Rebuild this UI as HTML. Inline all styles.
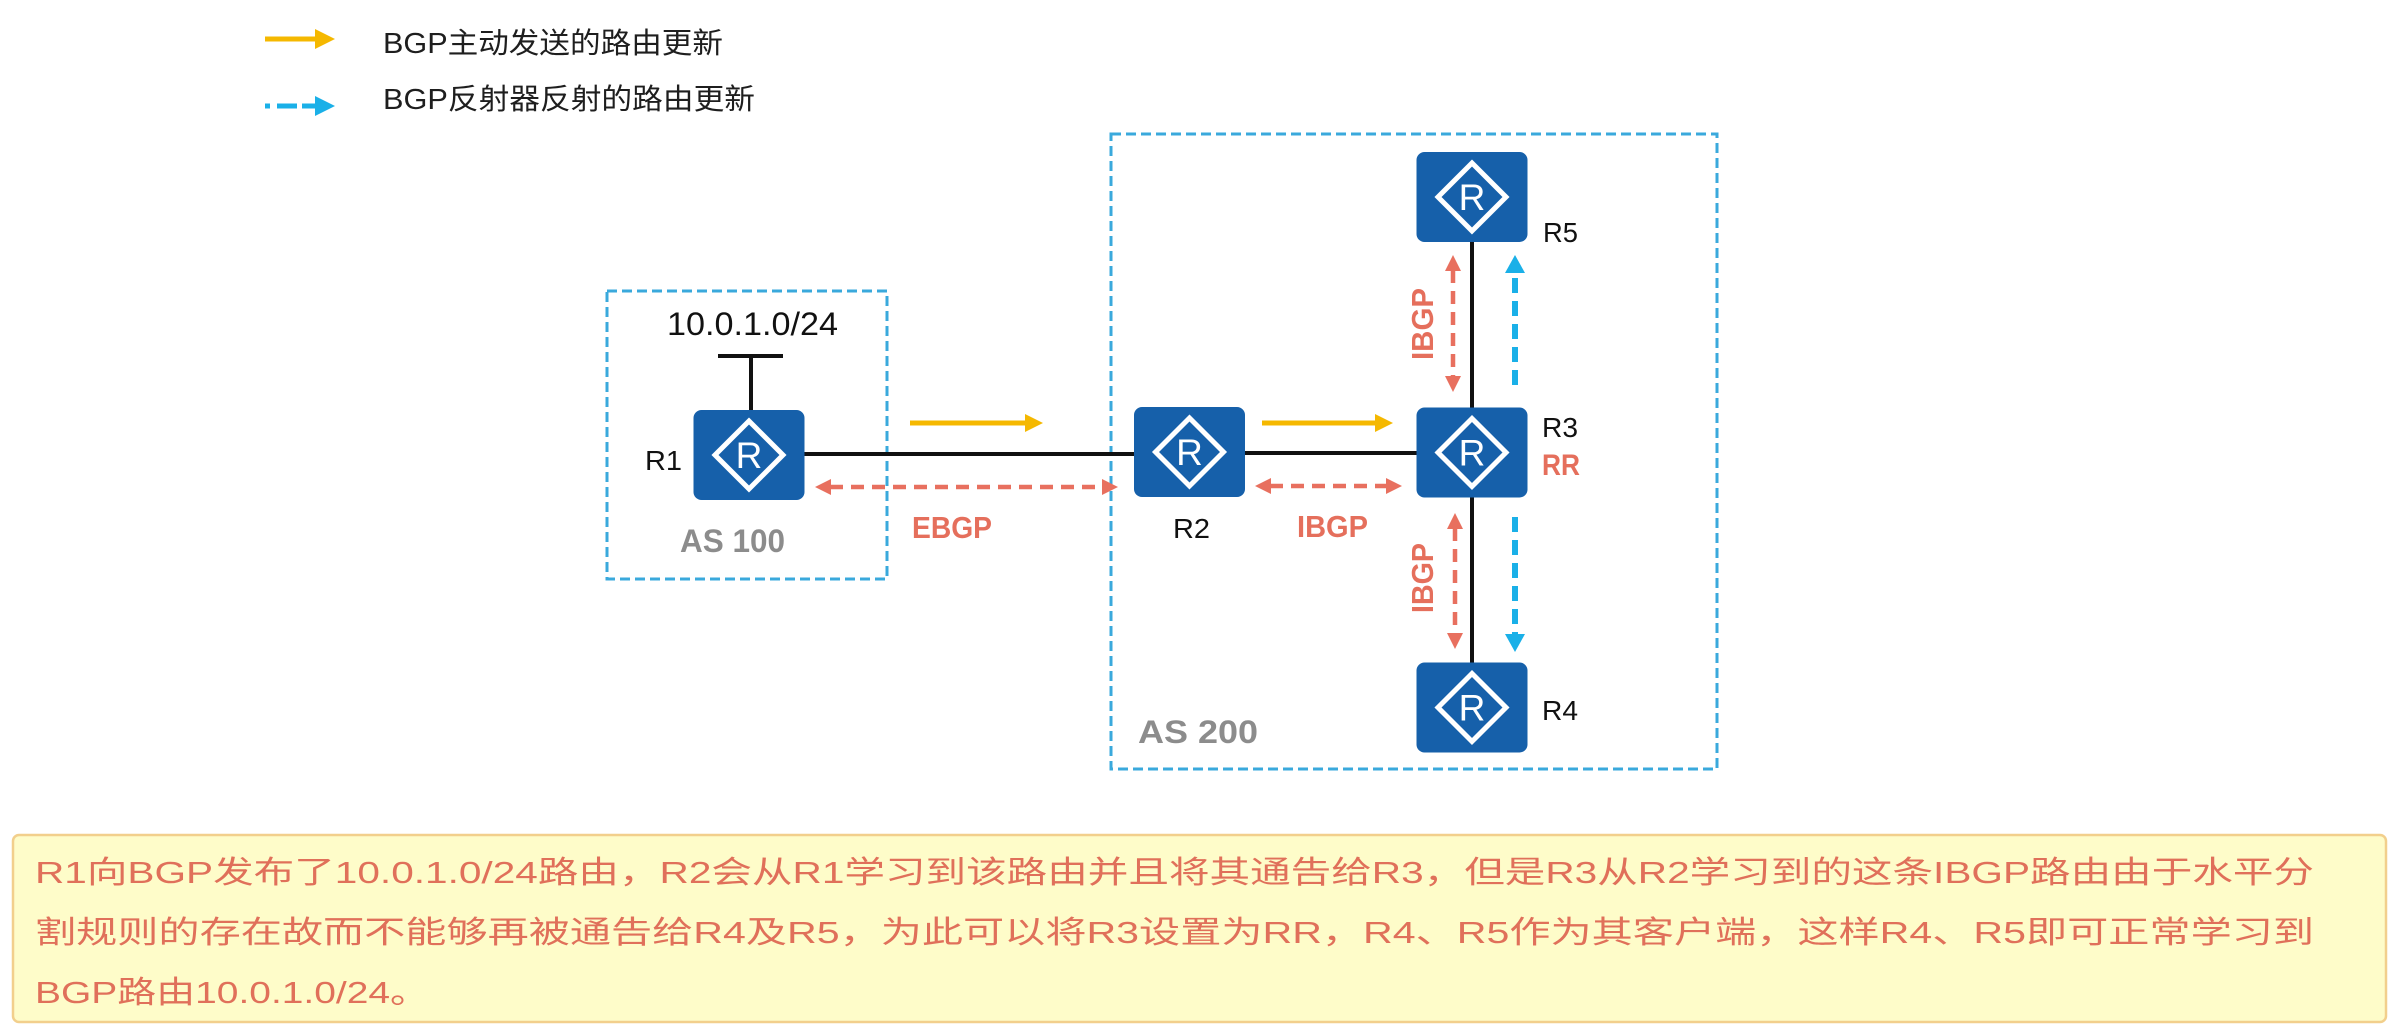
<!DOCTYPE html>
<html>
<head>
<meta charset="utf-8">
<style>
  html, body { margin: 0; padding: 0; background: #ffffff; }
  svg { display: block; }
  .cjk { font-family: "Liberation Sans", "Noto Sans CJK SC", sans-serif; }
  .lat { font-family: "Liberation Sans", sans-serif; }
</style>
</head>
<body>
<svg width="2404" height="1033" viewBox="0 0 2404 1033" xmlns="http://www.w3.org/2000/svg">
  <defs>
    <g id="router">
      <rect x="-55.5" y="-45" width="111" height="90" rx="8" ry="8" fill="#1660aa"/>
      <polygon points="0,-34 34,0 0,34 -34,0" fill="none" stroke="#ffffff" stroke-width="5" stroke-linejoin="miter"/>
      <text x="0" y="13" text-anchor="middle" font-family="Liberation Sans, sans-serif" font-size="37" fill="#ffffff">R</text>
    </g>
  </defs>

  <rect x="0" y="0" width="2404" height="1033" fill="#ffffff"/>

  <!-- Legend -->
  <line x1="265" y1="39" x2="317" y2="39" stroke="#f5b800" stroke-width="5"/>
  <polygon points="315,29 335,39 315,49" fill="#f5b800"/>
  <text class="cjk" x="383" y="53" font-size="29" fill="#1e1e1e" textLength="340" lengthAdjust="spacingAndGlyphs">BGP主动发送的路由更新</text>

  <line x1="265" y1="106" x2="270" y2="106" stroke="#1ab0e8" stroke-width="5"/>
  <line x1="277" y1="106" x2="297" y2="106" stroke="#1ab0e8" stroke-width="5"/>
  <line x1="302" y1="106" x2="316" y2="106" stroke="#1ab0e8" stroke-width="5"/>
  <polygon points="315,96 335,106 315,116" fill="#1ab0e8"/>
  <text class="cjk" x="383" y="109" font-size="29" fill="#1e1e1e" textLength="372" lengthAdjust="spacingAndGlyphs">BGP反射器反射的路由更新</text>

  <!-- AS boxes -->
  <rect x="607" y="291" width="280" height="288" fill="none" stroke="#3aa9dc" stroke-width="3" stroke-dasharray="10 5"/>
  <rect x="1111" y="134" width="606" height="635" fill="none" stroke="#3aa9dc" stroke-width="3" stroke-dasharray="10 5"/>

  <!-- Links -->
  <line x1="751" y1="356" x2="751" y2="412" stroke="#111111" stroke-width="4"/>
  <line x1="718" y1="356" x2="783" y2="356" stroke="#111111" stroke-width="4"/>
  <line x1="800" y1="454" x2="1140" y2="454" stroke="#111111" stroke-width="4"/>
  <line x1="1240" y1="453" x2="1420" y2="453" stroke="#111111" stroke-width="4"/>
  <line x1="1472" y1="238" x2="1472" y2="667" stroke="#111111" stroke-width="4"/>

  <!-- Routers -->
  <use href="#router" x="749" y="455"/>
  <use href="#router" x="1189.5" y="452"/>
  <use href="#router" x="1472" y="452.5"/>
  <use href="#router" x="1472" y="197"/>
  <use href="#router" x="1472" y="707.5"/>

  <!-- Yellow arrows -->
  <line x1="910" y1="423" x2="1027" y2="423" stroke="#f5b800" stroke-width="5"/>
  <polygon points="1025,414 1043,423 1025,432" fill="#f5b800"/>
  <line x1="1262" y1="423" x2="1377" y2="423" stroke="#f5b800" stroke-width="5"/>
  <polygon points="1375,414 1393,423 1375,432" fill="#f5b800"/>

  <!-- Pink dashed double arrows -->
  <line x1="830" y1="487" x2="1103" y2="487" stroke="#e8705f" stroke-width="4.5" stroke-dasharray="13 8"/>
  <polygon points="815,487 831,479 831,495" fill="#e8705f"/>
  <polygon points="1118,487 1102,479 1102,495" fill="#e8705f"/>

  <line x1="1270" y1="486" x2="1387" y2="486" stroke="#e8705f" stroke-width="4.5" stroke-dasharray="13 8"/>
  <polygon points="1255,486 1271,478 1271,494" fill="#e8705f"/>
  <polygon points="1402,486 1386,478 1386,494" fill="#e8705f"/>

  <line x1="1453" y1="270" x2="1453" y2="377" stroke="#e8705f" stroke-width="4.5" stroke-dasharray="13 8"/>
  <polygon points="1453,255 1445,271 1461,271" fill="#e8705f"/>
  <polygon points="1453,392 1445,376 1461,376" fill="#e8705f"/>

  <line x1="1455" y1="528" x2="1455" y2="634" stroke="#e8705f" stroke-width="4.5" stroke-dasharray="13 8"/>
  <polygon points="1455,513 1447,529 1463,529" fill="#e8705f"/>
  <polygon points="1455,649 1447,633 1463,633" fill="#e8705f"/>

  <!-- Blue reflect arrows -->
  <line x1="1515" y1="385" x2="1515" y2="272" stroke="#1ab0e8" stroke-width="6" stroke-dasharray="15 8"/>
  <polygon points="1515,255 1505,273 1525,273" fill="#1ab0e8"/>
  <line x1="1515" y1="517" x2="1515" y2="635" stroke="#1ab0e8" stroke-width="6" stroke-dasharray="15 8"/>
  <polygon points="1515,652 1505,634 1525,634" fill="#1ab0e8"/>

  <!-- Labels -->
  <text class="lat" x="667" y="335" font-size="32" fill="#111111" textLength="171" lengthAdjust="spacingAndGlyphs">10.0.1.0/24</text>
  <text class="lat" x="645" y="470" font-size="28" fill="#111111" textLength="37" lengthAdjust="spacingAndGlyphs">R1</text>
  <text class="lat" x="680" y="552" font-size="32" font-weight="bold" fill="#8c8c8c" textLength="105" lengthAdjust="spacingAndGlyphs">AS 100</text>
  <text class="lat" x="912" y="538" font-size="31" font-weight="bold" fill="#e56f5c" textLength="80" lengthAdjust="spacingAndGlyphs">EBGP</text>
  <text class="lat" x="1173" y="538" font-size="28" fill="#111111" textLength="37" lengthAdjust="spacingAndGlyphs">R2</text>
  <text class="lat" x="1297" y="537" font-size="31" font-weight="bold" fill="#e56f5c" textLength="71" lengthAdjust="spacingAndGlyphs">IBGP</text>
  <text class="lat" x="1542" y="437" font-size="28" fill="#111111" textLength="36" lengthAdjust="spacingAndGlyphs">R3</text>
  <text class="lat" x="1542" y="475" font-size="30" font-weight="bold" fill="#e56f5c" textLength="38" lengthAdjust="spacingAndGlyphs">RR</text>
  <text class="lat" x="1543" y="242" font-size="28" fill="#111111" textLength="35" lengthAdjust="spacingAndGlyphs">R5</text>
  <text class="lat" x="1542" y="720" font-size="28" fill="#111111" textLength="36" lengthAdjust="spacingAndGlyphs">R4</text>
  <text class="lat" x="1138" y="743" font-size="32" font-weight="bold" fill="#8c8c8c" textLength="120" lengthAdjust="spacingAndGlyphs">AS 200</text>

  <text class="lat" transform="translate(1433,360) rotate(-90)" x="0" y="0" font-size="31" font-weight="bold" fill="#e56f5c" textLength="72" lengthAdjust="spacingAndGlyphs">IBGP</text>
  <text class="lat" transform="translate(1433,613) rotate(-90)" x="0" y="0" font-size="31" font-weight="bold" fill="#e56f5c" textLength="70" lengthAdjust="spacingAndGlyphs">IBGP</text>

  <!-- Description box -->
  <rect x="13" y="835" width="2373" height="187" rx="6" ry="6" fill="#fefcc9" stroke="#f2cf8c" stroke-width="2.5"/>
  <text class="cjk" x="35" y="883" font-size="31" fill="#e0705a" textLength="2279" lengthAdjust="spacingAndGlyphs">R1向BGP发布了10.0.1.0/24路由，R2会从R1学习到该路由并且将其通告给R3，但是R3从R2学习到的这条IBGP路由由于水平分</text>
  <text class="cjk" x="35" y="943" font-size="31" fill="#e0705a" textLength="2279" lengthAdjust="spacingAndGlyphs">割规则的存在故而不能够再被通告给R4及R5，为此可以将R3设置为RR，R4、R5作为其客户端，这样R4、R5即可正常学习到</text>
  <text class="cjk" x="35" y="1003" font-size="31" fill="#e0705a" textLength="394" lengthAdjust="spacingAndGlyphs">BGP路由10.0.1.0/24。</text>
</svg>
</body>
</html>
